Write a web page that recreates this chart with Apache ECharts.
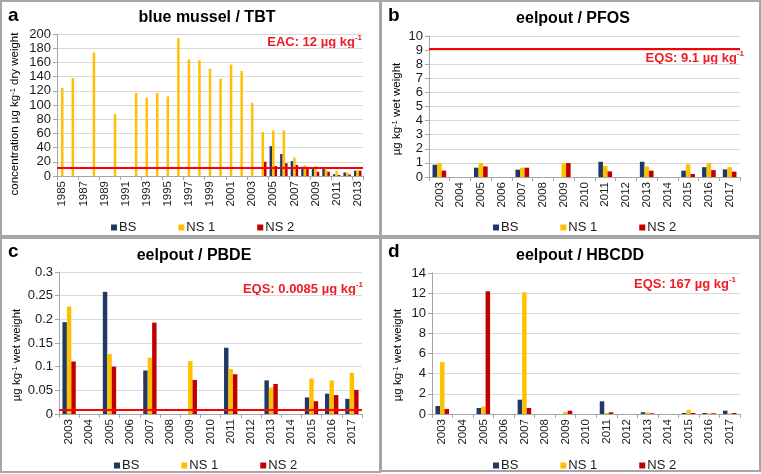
<!DOCTYPE html>
<html>
<head>
<meta charset="utf-8">
<script src="https://cdn.jsdelivr.net/npm/echarts@6/dist/echarts.min.js"></script>
<style>
    html, body {margin: 0; padding: 0; background: #ffffff;}
    #chart {width: 761px; height: 474px;}
</style>
</head>
<body>
<div id="chart"></div>
<script>
// blue mussel / TBT, 1985 - 2013
var yearsTbt = ["1985","1986","1987","1988","1989","1990","1991","1992","1993","1994",
    "1995","1996","1997","1998","1999","2000","2001","2002","2003","2004",
    "2005","2006","2007","2008","2009","2010","2011","2012","2013"];
var tbtBS  = [null,null,null,null,null,null,null,null,null,null,
    null,null,null,null,null,null,null,null,null,null,
    42,31,21,13,10,12,2.5,5,7.5];
var tbtNS1 = [124,138,null,174,null,87,null,117,110,117,
    112,194,164,163,151,137,157,148,103,62,
    64,64,26,15,14,9,7,5,8];
var tbtNS2 = [null,null,null,null,null,null,null,null,null,null,
    null,null,null,null,null,null,null,null,null,20,
    14,18,15.5,12,6,6,1.5,2,7.5];

// eelpout, 2003 - 2017
var yearsEel = ["2003","2004","2005","2006","2007","2008","2009","2010",
    "2011","2012","2013","2014","2015","2016","2017"];
var pfosBS  = [0.87,null,0.66,null,0.52,null,null,null,1.08,null,1.08,null,0.45,0.7,0.54];
var pfosNS1 = [0.99,null,0.99,null,0.66,null,0.99,null,0.78,null,0.75,null,0.9,0.99,0.7];
var pfosNS2 = [0.45,null,0.75,null,0.66,null,0.99,null,0.4,null,0.45,null,0.21,0.49,0.38];

var pbdeBS  = [0.194,null,0.258,null,0.092,null,null,null,0.14,null,0.071,null,0.035,0.043,0.032];
var pbdeNS1 = [0.227,null,0.127,null,0.119,null,0.112,null,0.095,null,0.056,null,0.075,0.071,0.087];
var pbdeNS2 = [0.111,null,0.100,null,0.193,null,0.072,null,0.084,null,0.0635,null,0.027,0.04,0.051];

var hbcddBS  = [0.8,null,0.6,null,1.42,null,null,null,1.26,null,0.17,null,0.1,0.1,0.33];
var hbcddNS1 = [5.15,null,0.73,null,12.08,null,0.2,null,0.1,null,0.15,null,0.4,0.07,0.06];
var hbcddNS2 = [0.5,null,12.18,null,0.6,null,0.33,null,0.17,null,0.07,null,0.1,0.07,0.1];

// limit values (EAC / EQS)
var tbtEAC = 12;
var pfosEQS = 9.1;
var pbdeEQS = 0.0085;

var seriesNames = ["BS", "NS 1", "NS 2"];
var colors = ["#1F3864", "#FFC000", "#C00000"];

var FONT = "'Liberation Sans', Arial, sans-serif";

function barSeries(idx, name, data, color, limit, gap) {
    var s = {
        name: name,
        type: 'bar',
        xAxisIndex: idx,
        yAxisIndex: idx,
        data: data,
        barGap: '0%',
        barCategoryGap: gap,
        itemStyle: {color: color},
        animation: false
    };
    if (limit != null) {
        s.markLine = {
            silent: true,
            symbol: ['none', 'none'],
            label: {show: false},
            lineStyle: {color: '#FF0000', width: 2, type: 'solid'},
            data: [{yAxis: limit}]
        };
    }
    return s;
}

function xAxis(idx, cats, interval) {
    return {
        type: 'category',
        gridIndex: idx,
        data: cats,
        axisLine: {lineStyle: {color: '#A6A6A6', width: 1}},
        axisTick: {show: true, length: 4, lineStyle: {color: '#A6A6A6'}},
        axisLabel: {
            interval: interval,
            rotate: 90,
            margin: 5,
            color: '#1a1a1a',
            fontSize: 11.5,
            fontFamily: FONT
        }
    };
}

function yAxis(idx, max, interval) {
    return {
        type: 'value',
        gridIndex: idx,
        min: 0,
        max: max,
        interval: interval,
        axisLine: {show: true, lineStyle: {color: '#A6A6A6'}},
        axisTick: {show: true, length: 4, lineStyle: {color: '#A6A6A6'}},
        splitLine: {lineStyle: {color: '#D9D9D9', width: 1}},
        axisLabel: {color: '#1a1a1a', fontSize: 13, fontFamily: FONT, margin: 6}
    };
}

function legend(left, top) {
    return {
        data: seriesNames,
        left: left,
        top: top,
        itemWidth: 6,
        itemHeight: 6,
        itemGap: 42,
        icon: 'rect',
        selectedMode: false,
        textStyle: {fontSize: 13, fontFamily: FONT, color: '#1a1a1a', padding: [0, 0, 0, -3]}
    };
}

function txt(x, y, text, size, align, color, rich) {
    return {
        type: 'text',
        x: x,
        y: y,
        silent: true,
        style: {
            text: text,
            font: 'bold ' + size + 'px ' + FONT,
            fill: color,
            align: align,
            textAlign: align,
            verticalAlign: 'middle',
            textVerticalAlign: 'middle',
            rich: rich
        }
    };
}

// rotated axis title with superscript -1
function yTitle(x, y, text, size) {
    return {
        type: 'text',
        x: x,
        y: y,
        rotation: Math.PI / 2,
        silent: true,
        style: {
            text: text,
            align: 'center',
            verticalAlign: 'middle',
            rich: {
                n: {fontSize: size, fontFamily: FONT, color: '#1a1a1a', lineHeight: 13},
                s: {fontSize: 7.5, fontFamily: FONT, color: '#1a1a1a', lineHeight: 13, verticalAlign: 'top'}
            }
        }
    };
}

function limitRich(size) {
    return {
        b: {fontSize: size, fontWeight: 'bold', fontFamily: FONT, color: '#EE1C25', lineHeight: 16},
        s: {fontSize: 8, fontWeight: 'bold', fontFamily: FONT, color: '#EE1C25', lineHeight: 16, verticalAlign: 'top'}
    };
}

function box(x, y, w, h) {
    return {
        type: 'rect',
        silent: true,
        shape: {x: x, y: y, width: w, height: h},
        style: {fill: 'none', stroke: '#A6A6A6', lineWidth: 2}
    };
}

var yName = '{n|µg kg}{s|-1}{n| wet weight}';

var option = {
    backgroundColor: '#ffffff',
    animation: false,
    grid: [
        {left: 57, top: 34, width: 306, height: 142},
        {left: 429, top: 36, width: 311, height: 141},
        {left: 59, top: 272, width: 303, height: 142},
        {left: 432, top: 273, width: 308, height: 141}
    ],
    xAxis: [
        xAxis(0, yearsTbt, 1),
        xAxis(1, yearsEel, 0),
        xAxis(2, yearsEel, 0),
        xAxis(3, yearsEel, 0)
    ],
    yAxis: [
        yAxis(0, 200, 20),
        yAxis(1, 10, 1),
        yAxis(2, 0.3, 0.05),
        yAxis(3, 14, 2)
    ],
    legend: [
        legend(106, 216),
        legend(488, 216),
        legend(109, 454),
        legend(488, 454)
    ],
    series: [
        barSeries(0, "BS", tbtBS, colors[0], null, '29%'),
        barSeries(0, "NS 1", tbtNS1, colors[1], tbtEAC, '29%'),
        barSeries(0, "NS 2", tbtNS2, colors[2], null, '29%'),
        barSeries(1, "BS", pfosBS, colors[0], null, '34%'),
        barSeries(1, "NS 1", pfosNS1, colors[1], pfosEQS, '34%'),
        barSeries(1, "NS 2", pfosNS2, colors[2], null, '34%'),
        barSeries(2, "BS", pbdeBS, colors[0], null, '34%'),
        barSeries(2, "NS 1", pbdeNS1, colors[1], pbdeEQS, '34%'),
        barSeries(2, "NS 2", pbdeNS2, colors[2], null, '34%'),
        barSeries(3, "BS", hbcddBS, colors[0], null, '34%'),
        barSeries(3, "NS 1", hbcddNS1, colors[1], null, '34%'),
        barSeries(3, "NS 2", hbcddNS2, colors[2], null, '34%')
    ],
    graphic: [
        box(1, 1, 379, 235),
        box(381, 1, 379, 235),
        box(1, 238, 379, 234),
        box(381, 238, 379, 233),
        txt(8, 16, 'a', 19, 'left', '#000000'),
        txt(388, 16, 'b', 19, 'left', '#000000'),
        txt(8, 252, 'c', 19, 'left', '#000000'),
        txt(388, 252, 'd', 19, 'left', '#000000'),
        txt(207, 18, 'blue mussel / TBT', 16, 'center', '#000000'),
        txt(573, 19, 'eelpout / PFOS', 16, 'center', '#000000'),
        txt(194, 256, 'eelpout / PBDE', 16, 'center', '#000000'),
        txt(580, 256, 'eelpout / HBCDD', 16, 'center', '#000000'),
        txt(362, 42, '{b|EAC: 12 µg kg}{s|-1}', 13, 'right', '#EE1C25', limitRich(13)),
        txt(744, 58, '{b|EQS: 9.1 µg kg}{s|-1}', 13, 'right', '#EE1C25', limitRich(13)),
        txt(363, 289, '{b|EQS: 0.0085 µg kg}{s|-1}', 13, 'right', '#EE1C25', limitRich(13)),
        txt(736, 284, '{b|EQS: 167 µg kg}{s|-1}', 13, 'right', '#EE1C25', limitRich(13)),
        yTitle(15, 114, '{n|concentration µg kg}{s|-1}{n| dry weight}', 11.5),
        yTitle(397, 109, yName, 11.5),
        yTitle(17, 355, yName, 11.5),
        yTitle(398, 355, yName, 11.5)
    ]
};

var chartDiv = document.getElementById('chart');
var chart = echarts.init(chartDiv);
chart.setOption(option);
window.onresize = chart.resize;
</script>
</body>
</html>
